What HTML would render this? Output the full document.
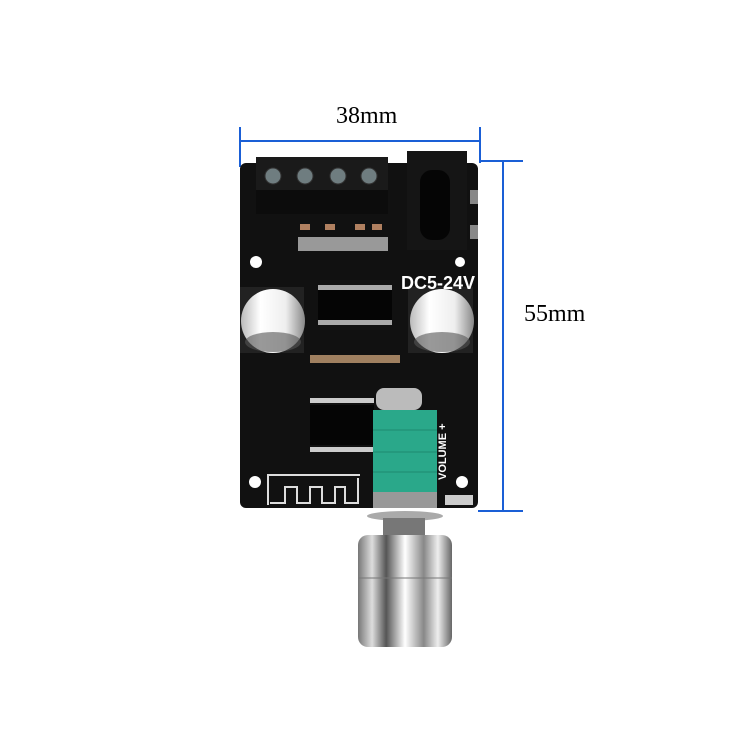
<!DOCTYPE html>
<html><head><style>
body{margin:0;width:750px;height:750px;background:#fff;position:relative;overflow:hidden;font-family:"Liberation Serif",serif}
.a{position:absolute}
</style></head><body>
<svg class="a" style="left:0;top:0" width="750" height="750">
<defs>
<linearGradient id="cap" x1="0" x2="1"><stop offset="0" stop-color="#bbb"/><stop offset=".3" stop-color="#fff"/><stop offset=".7" stop-color="#eee"/><stop offset="1" stop-color="#888"/></linearGradient>
<linearGradient id="knob" x1="0" x2="1"><stop offset="0" stop-color="#777"/><stop offset=".15" stop-color="#ddd"/><stop offset=".3" stop-color="#555"/><stop offset=".5" stop-color="#fff"/><stop offset=".7" stop-color="#888"/><stop offset=".85" stop-color="#eee"/><stop offset="1" stop-color="#666"/></linearGradient>
</defs>
<g stroke="#1a5fd6" stroke-width="2">
<line x1="240" y1="141" x2="480" y2="141"/>
<line x1="240" y1="127" x2="240" y2="167"/>
<line x1="480" y1="127" x2="480" y2="163"/>
<line x1="480" y1="161" x2="523" y2="161"/>
<line x1="503" y1="161" x2="503" y2="511"/>
<line x1="478" y1="511" x2="523" y2="511"/>
</g>
<rect x="240" y="163" width="238" height="345" rx="6" fill="#111"/>
<rect x="256" y="157" width="132" height="57" fill="#1a1a1a"/>
<rect x="256" y="190" width="132" height="24" fill="#0c0c0c"/>
<g fill="#6f7d80" stroke="#333">
<circle cx="273" cy="176" r="8"/><circle cx="305" cy="176" r="8"/><circle cx="338" cy="176" r="8"/><circle cx="369" cy="176" r="8"/></g>
<rect x="407" y="151" width="60" height="99" fill="#151515"/>
<rect x="420" y="170" width="30" height="70" rx="12" fill="#050505"/>
<rect x="470" y="190" width="8" height="14" fill="#888"/><rect x="470" y="225" width="8" height="14" fill="#888"/>
<g fill="#fff"><circle cx="256" cy="262" r="6"/><circle cx="460" cy="262" r="5"/><circle cx="255" cy="482" r="6"/><circle cx="462" cy="482" r="6"/></g>
<g fill="#b08060"><rect x="300" y="224" width="10" height="6"/><rect x="325" y="224" width="10" height="6"/><rect x="355" y="224" width="10" height="6"/><rect x="372" y="224" width="10" height="6"/></g>
<g fill="#999"><rect x="298" y="237" width="90" height="14"/></g>
<rect x="318" y="290" width="74" height="30" fill="#050505"/>
<g fill="#aaa"><rect x="318" y="285" width="74" height="5"/><rect x="318" y="320" width="74" height="5"/></g>
<rect x="310" y="355" width="90" height="8" fill="#a08060"/>
<rect x="310" y="405" width="64" height="40" fill="#050505"/>
<g fill="#ccc"><rect x="310" y="398" width="64" height="5"/><rect x="310" y="447" width="64" height="5"/></g>
<rect x="240" y="287" width="64" height="66" fill="#222"/>
<rect x="408" y="287" width="65" height="66" fill="#222"/>
<circle cx="273" cy="321" r="32" fill="url(#cap)"/>
<circle cx="442" cy="321" r="32" fill="url(#cap)"/>
<ellipse cx="273" cy="342" rx="28" ry="10" fill="#555" opacity=".6"/>
<ellipse cx="442" cy="342" rx="28" ry="10" fill="#555" opacity=".6"/>
<path d="M268 505 V475 H360 M270 503 H285 V487 H297 V503 H310 V487 H322 V503 H335 V487 H345 V503 H358 V478" stroke="#ddd" stroke-width="2" fill="none"/>
<rect x="376" y="388" width="46" height="22" rx="8" fill="#bbb"/>
<rect x="373" y="410" width="64" height="82" fill="#2aa88a"/>
<g stroke="#1e8a70"><line x1="373" y1="430" x2="437" y2="430"/><line x1="373" y1="452" x2="437" y2="452"/><line x1="373" y1="472" x2="437" y2="472"/></g>
<rect x="373" y="492" width="64" height="16" fill="#999"/>
<rect x="445" y="495" width="28" height="10" fill="#ccc"/>
<ellipse cx="405" cy="516" rx="38" ry="5" fill="#aaa"/>
<rect x="383" y="518" width="42" height="18" fill="#777"/>
<rect x="358" y="535" width="94" height="112" rx="10" fill="url(#knob)"/>
<line x1="358" y1="578" x2="452" y2="578" stroke="#777"/>
<text x="438" y="289" text-anchor="middle" font-family="Liberation Sans, sans-serif" font-weight="bold" font-size="18" fill="#fff">DC5-24V</text>
</svg>
<div class="a" style="left:336px;top:103px;font-size:24px">38mm</div>
<div class="a" style="left:524px;top:301px;font-size:24px">55mm</div>
<div class="a" style="font-size:11px;font-weight:bold;color:#fff;font-family:'Liberation Sans',sans-serif;transform:rotate(-90deg);transform-origin:0 0;top:480px;left:437px">VOLUME +</div>
</body></html>
